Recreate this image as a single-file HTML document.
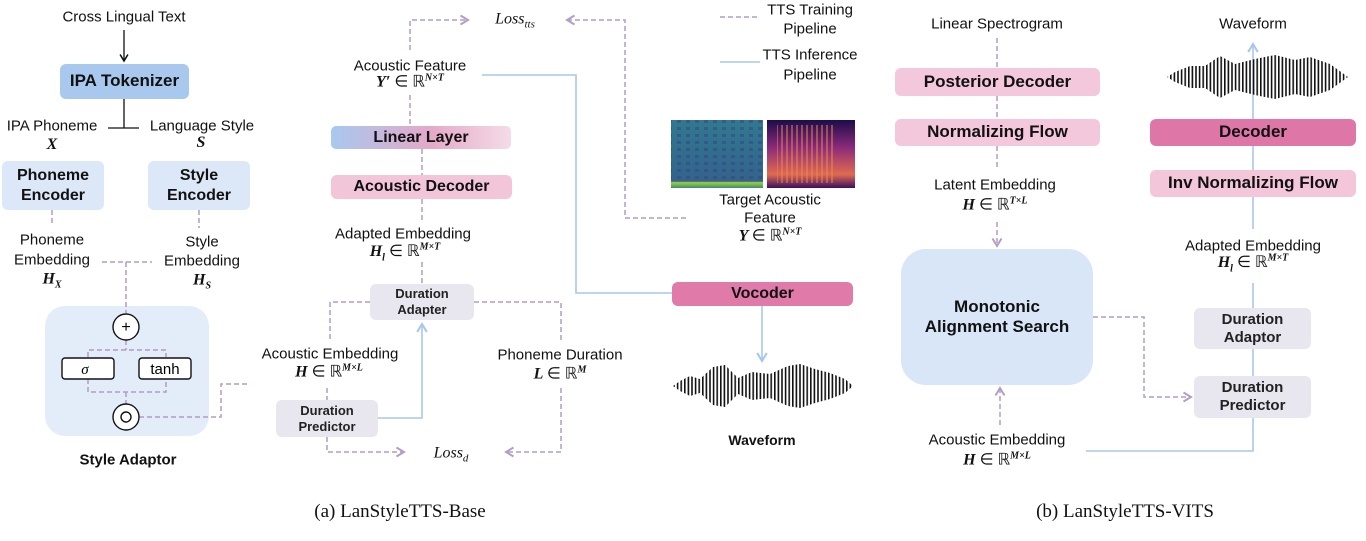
<!DOCTYPE html>
<html><head><meta charset="utf-8"><style>
body{margin:0;width:1366px;height:541px;background:#fff;position:relative;overflow:hidden;font-family:"Liberation Sans",sans-serif;color:#111}
.t{position:absolute;transform:translate(-50%,-50%);white-space:nowrap;font-size:15px;line-height:1}
.m{font-family:"Liberation Serif",serif;font-size:16px;font-weight:bold;font-style:italic}
.m span{font-style:normal;font-weight:normal}
.box{position:absolute;display:flex;align-items:center;justify-content:center;text-align:center;font-weight:bold;font-size:16px;border-radius:6px;line-height:1.2}
.sm{font-size:14px;font-weight:bold;color:#222}
.cap{position:absolute;transform:translate(-50%,-50%);font-family:"Liberation Serif",serif;font-size:19px;white-space:nowrap}
svg{position:absolute;left:0;top:0}
</style></head><body>
<svg width="1366" height="541">
<defs>
<pattern id="st" width="3.6" height="10" patternUnits="userSpaceOnUse"><rect width="1.6" height="10" fill="#111"/></pattern>
<pattern id="n1" width="9" height="7" patternUnits="userSpaceOnUse"><rect x="2" y="1" width="4" height="3" fill="#3d3f86" opacity="0.55"/></pattern>
<pattern id="n2" width="5" height="6" patternUnits="userSpaceOnUse"><rect x="1" y="0" width="2" height="6" fill="#f08a50" opacity="0.5"/></pattern>
<marker id="ap" markerWidth="8" markerHeight="8" refX="6" refY="4" orient="auto"><path d="M1,1 L6,4 L1,7" fill="none" stroke="#b39cc6" stroke-width="1.3"/></marker>
<marker id="ab" markerWidth="8" markerHeight="8" refX="6" refY="4" orient="auto"><path d="M1,1 L6,4 L1,7" fill="none" stroke="#a9c6ec" stroke-width="1.3"/></marker>
<marker id="ak" markerWidth="8" markerHeight="8" refX="6" refY="4" orient="auto"><path d="M1,1 L6,4 L1,7" fill="none" stroke="#111" stroke-width="1.2"/></marker>
<linearGradient id="lg" x1="0" x2="1"><stop offset="0" stop-color="#a8c8ef"/><stop offset="0.55" stop-color="#e4a9c8"/><stop offset="1" stop-color="#f5dbe7"/></linearGradient>
<linearGradient id="sp1" x1="0" x2="0" y1="0" y2="1"><stop offset="0" stop-color="#2f7a8e"/><stop offset="0.9" stop-color="#32638c"/><stop offset="0.92" stop-color="#9fd13a"/><stop offset="1" stop-color="#3b8a7a"/></linearGradient>
<linearGradient id="sp2" x1="0" x2="0" y1="0" y2="1"><stop offset="0" stop-color="#1c0c4a"/><stop offset="0.4" stop-color="#8a2a7a"/><stop offset="0.8" stop-color="#e06a50"/><stop offset="1" stop-color="#3a1060"/></linearGradient>
</defs>
<rect x="45" y="306" width="164" height="130" rx="20" fill="#e3edfa"/>
<g fill="none" stroke="#b39cc6" stroke-width="1.5" stroke-dasharray="5,3">
<path d="M52 210V226M199 210V228M102 262H152M126 262V313"/>
<path d="M88 357V350H166V357M88 379V392H166V379M126 392V404M126 340V350"/>
<path d="M139 417H221V384H250"/>
<path d="M410 50V20H468" marker-end="url(#ap)"/>
<path d="M686 218H625V20H567" marker-end="url(#ap)"/>
<path d="M410 95V125M422 149V175M422 199V220M422 262V284"/>
<path d="M370 302H330V340M474 302H561V342"/>
<path d="M327 388V400"/>
<path d="M327 437V452H404" marker-end="url(#ap)"/>
<path d="M561 388V452H506" marker-end="url(#ap)"/>
<path d="M720 17H760" />
<path d="M997 38V68M997 96V119M997 146V168"/>
<path d="M997 222V246" marker-end="url(#ap)"/>
<path d="M1000 425V388" marker-end="url(#ap)"/>
<path d="M1093 317H1144V397H1191" marker-end="url(#ap)"/>
</g>
<g fill="none" stroke="#a9c6ec" stroke-width="1.6">
<path d="M720 62H760"/>
<path d="M482 75H576V293H672"/>
<path d="M378 418H422V324" marker-end="url(#ab)"/>
<path d="M762 306V361" marker-end="url(#ab)"/>
<path d="M1086 451H1253V418M1253 376V349M1253 308V283M1253 229V197M1253 170V146M1253 119V44" marker-end="url(#ab)"/>
</g>
<g stroke="#111" stroke-width="1.3" fill="none">
<path d="M124 30V61" marker-end="url(#ak)"/>
<path d="M124 99V128M108 128H139"/>
</g>
<g stroke="#111" stroke-width="1.4" fill="#fff">
<circle cx="126" cy="327" r="13"/><circle cx="126" cy="417" r="13"/>
<rect x="62" y="358" width="52" height="21" rx="3"/><rect x="139" y="358" width="52" height="21" rx="3"/>
<circle cx="126" cy="417" r="5" fill="none"/>
</g>
<text x="126" y="332" text-anchor="middle" font-size="16" font-family="Liberation Sans">+</text>
<text x="85" y="374" text-anchor="middle" font-size="15" font-style="italic" font-family="Liberation Serif">σ</text>
<text x="165" y="374" text-anchor="middle" font-size="15" font-family="Liberation Sans">tanh</text>
<rect x="331" y="126" width="180" height="23" rx="5" fill="url(#lg)"/>
<rect x="671" y="120" width="92" height="68" fill="url(#sp1)"/>
<rect x="671" y="120" width="92" height="60" fill="url(#n1)"/>
<rect x="767" y="120" width="88" height="68" fill="url(#sp2)"/>
<rect x="777" y="125" width="58" height="58" fill="url(#n2)"/>
<polygon points="673,386 680,381 690,376 700,379 713,367 725,365 738,378 752,372 770,374 788,366 800,364 815,369 830,373 845,379 853,386 845,393 830,399 815,403 800,408 788,406 770,398 752,400 738,394 725,407 713,405 700,393 690,396 680,391" fill="url(#st)"/>
<polygon points="1167,77 1175,72 1190,66 1205,66 1220,56 1235,64 1255,59 1275,55 1295,60 1310,57 1330,64 1348,77 1330,90 1310,97 1295,94 1275,99 1255,95 1235,90 1220,98 1205,88 1190,88 1175,82" fill="url(#st)"/>
</svg>

<div class="t" style="left:124px;top:17px">Cross Lingual Text</div>
<div class="box" style="left:60px;top:64px;width:129px;height:35px;background:#a9c8ee;font-size:17px">IPA Tokenizer</div>
<div class="t" style="left:52px;top:126px">IPA Phoneme</div>
<div class="t m" style="left:52px;top:145px">X</div>
<div class="t" style="left:202px;top:126px">Language Style</div>
<div class="t m" style="left:201px;top:143px">S</div>
<div class="box" style="left:2px;top:161px;width:102px;height:49px;background:#dce8f8">Phoneme<br>Encoder</div>
<div class="box" style="left:148px;top:161px;width:102px;height:49px;background:#dce8f8">Style<br>Encoder</div>
<div class="t" style="left:52px;top:240px">Phoneme</div>
<div class="t" style="left:52px;top:260px">Embedding</div>
<div class="t m" style="left:52px;top:281px">H<sub style="font-size:10px">X</sub></div>
<div class="t" style="left:202px;top:242px">Style</div>
<div class="t" style="left:202px;top:261px">Embedding</div>
<div class="t m" style="left:202px;top:282px">H<sub style="font-size:10px">S</sub></div>
<div class="t" style="left:128px;top:460px;font-weight:bold">Style Adaptor</div>

<div class="t" style="left:515px;top:21px;font-family:'Liberation Serif',serif;font-style:italic;font-size:16px">Loss<sub style="font-size:11px">tts</sub></div>
<div class="t" style="left:410px;top:66px">Acoustic Feature</div>
<div class="t m" style="left:410px;top:82px">Y′ <span>∈ ℝ</span><sup style="font-size:10px">N×T</sup></div>
<div class="box" style="left:331px;top:126px;width:180px;height:23px;background:transparent">Linear Layer</div>
<div class="box" style="left:331px;top:175px;width:181px;height:24px;background:#f2c6d8">Acoustic Decoder</div>
<div class="t" style="left:403px;top:234px">Adapted Embedding</div>
<div class="t m" style="left:405px;top:253px">H<sub style="font-size:10px">l</sub> <span>∈ ℝ</span><sup style="font-size:10px">M×T</sup></div>
<div class="box sm" style="left:370px;top:284px;width:104px;height:36px;background:#e8e6ee;font-size:13px">Duration<br>Adapter</div>
<div class="t" style="left:330px;top:354px">Acoustic Embedding</div>
<div class="t m" style="left:329px;top:372px">H <span>∈ ℝ</span><sup style="font-size:10px">M×L</sup></div>
<div class="box sm" style="left:276px;top:400px;width:102px;height:37px;background:#e8e6ee;font-size:13px">Duration<br>Predictor</div>
<div class="t" style="left:451px;top:455px;font-family:'Liberation Serif',serif;font-style:italic;font-size:16px">Loss<sub style="font-size:11px">d</sub></div>
<div class="t" style="left:560px;top:355px">Phoneme Duration</div>
<div class="t m" style="left:560px;top:374px">L <span>∈ ℝ</span><sup style="font-size:10px">M</sup></div>
<div class="t" style="left:810px;top:10px">TTS Training</div>
<div class="t" style="left:810px;top:29px">Pipeline</div>
<div class="t" style="left:810px;top:55px">TTS Inference</div>
<div class="t" style="left:810px;top:75px">Pipeline</div>
<div class="t" style="left:770px;top:200px">Target Acoustic</div>
<div class="t" style="left:770px;top:218px">Feature</div>
<div class="t m" style="left:770px;top:236px">Y <span>∈ ℝ</span><sup style="font-size:10px">N×T</sup></div>
<div class="box" style="left:672px;top:282px;width:181px;height:24px;background:#e07aa8">Vocoder</div>
<div class="t" style="left:762px;top:440px;font-size:14px;font-weight:bold">Waveform</div>
<div class="cap" style="left:400px;top:512px">(a) LanStyleTTS-Base</div>

<div class="t" style="left:997px;top:24px">Linear Spectrogram</div>
<div class="box" style="left:895px;top:68px;width:205px;height:28px;background:#f4c8dc;font-size:17px">Posterior Decoder</div>
<div class="box" style="left:895px;top:119px;width:205px;height:27px;background:#f4c8dc;font-size:17px">Normalizing Flow</div>
<div class="t" style="left:995px;top:185px">Latent Embedding</div>
<div class="t m" style="left:995px;top:205px">H <span>∈ ℝ</span><sup style="font-size:10px">T×L</sup></div>
<div class="box" style="left:901px;top:249px;width:192px;height:136px;background:#d8e6f7;border-radius:25px;font-size:17px">Monotonic<br>Alignment Search</div>
<div class="t" style="left:997px;top:440px">Acoustic Embedding</div>
<div class="t m" style="left:997px;top:460px">H <span>∈ ℝ</span><sup style="font-size:10px">M×L</sup></div>
<div class="t" style="left:1253px;top:24px">Waveform</div>
<div class="box" style="left:1150px;top:119px;width:206px;height:27px;background:#de77a8;font-size:17px">Decoder</div>
<div class="box" style="left:1150px;top:170px;width:206px;height:27px;background:#f3c6da;font-size:17px">Inv Normalizing Flow</div>
<div class="t" style="left:1253px;top:246px">Adapted Embedding</div>
<div class="t m" style="left:1253px;top:264px">H<sub style="font-size:10px">l</sub> <span>∈ ℝ</span><sup style="font-size:10px">M×T</sup></div>
<div class="box sm" style="left:1194px;top:308px;width:117px;height:41px;background:#e8e6ee;font-size:15px">Duration<br>Adaptor</div>
<div class="box sm" style="left:1194px;top:376px;width:117px;height:42px;background:#e8e6ee;font-size:15px">Duration<br>Predictor</div>
<div class="cap" style="left:1125px;top:512px">(b) LanStyleTTS-VITS</div>
</body></html>
